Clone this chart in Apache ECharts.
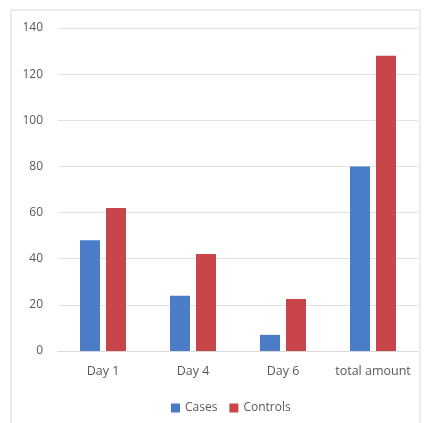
<!DOCTYPE html>
<html>
<head>
<meta charset="utf-8">
<script src="https://cdn.jsdelivr.net/npm/echarts@6/dist/echarts.min.js"></script>
<style>
  html, body { margin: 0; padding: 0; background: #fff; }
  #chart { width: 432px; height: 423px; }
</style>
</head>
<body>
<div id="chart"></div>
<script>
const categories = ['Day 1', 'Day 4', 'Day 6', 'total amount']
const cases = [48, 24, 7, 80]
const controls = [62, 42, 22.5, 128]

const textColor = '#595959'
const myChart = echarts.init(document.getElementById('chart'))

const option = {
    animation: false,
    textStyle: { fontFamily: 'Open Sans', color: textColor },
    graphic: [{
        type: 'rect',
        shape: { x: 11, y: 10, width: 409, height: 420 },
        style: { fill: 'none', stroke: '#d9d9d9', lineWidth: 1 },
        silent: true
    }],
    grid: { left: 58, right: 14, top: 28, bottom: 72 },
    legend: {
        top: 397,
        left: 166,
        itemWidth: 9,
        itemHeight: 9,
        itemGap: 12,
        icon: 'rect',
        textStyle: { fontSize: 12, color: textColor },
        data: ['Cases', 'Controls']
    },
    xAxis: {
        type: 'category',
        data: categories,
        axisLine: { lineStyle: { color: '#d9d9d9' } },
        axisTick: { show: false },
        axisLabel: { fontSize: 12.5, color: textColor, margin: 14, interval: 0 }
    },
    yAxis: {
        type: 'value',
        min: 0,
        max: 140,
        interval: 20,
        axisLine: { show: false },
        axisTick: { show: false },
        axisLabel: { fontSize: 12, color: textColor, margin: 15 },
        splitLine: { lineStyle: { color: '#e3e3e3' } }
    },
    series: [
        {
            name: 'Cases',
            type: 'bar',
            data: cases,
            barWidth: 20,
            barGap: '30%',
            itemStyle: { color: '#4a7cc7' }
        },
        {
            name: 'Controls',
            type: 'bar',
            data: controls,
            barWidth: 20,
            itemStyle: { color: '#c8464a' }
        }
    ]
}

myChart.setOption(option)
</script>
</body>
</html>
